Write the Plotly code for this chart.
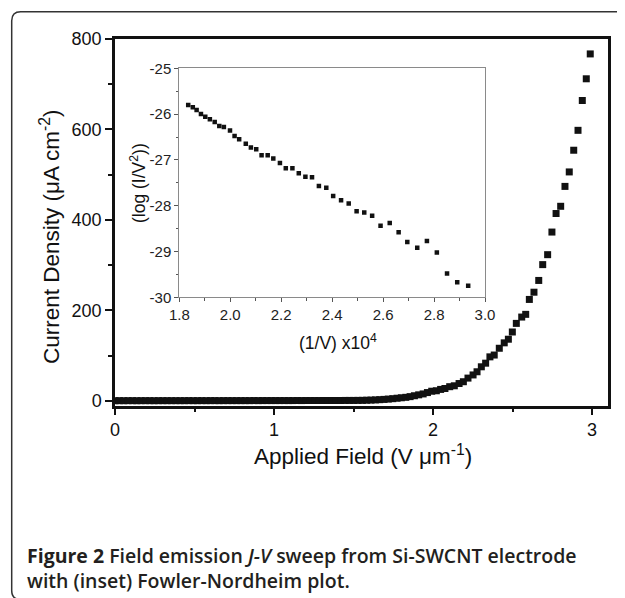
import plotly.graph_objects as go

# ---- main J-V sweep data (Applied field V/um, current density uA/cm2) ----
field = [0.000, 0.028, 0.055, 0.082, 0.110, 0.137, 0.164, 0.192, 0.219, 0.246,
         0.273, 0.301, 0.328, 0.355, 0.383, 0.410, 0.437, 0.464, 0.492, 0.519,
         0.546, 0.574, 0.601, 0.628, 0.655, 0.683, 0.710, 0.737, 0.765, 0.792,
         0.819, 0.846, 0.874, 0.901, 0.928, 0.956, 0.983, 1.010, 1.037, 1.065,
         1.092, 1.119, 1.147, 1.174, 1.201, 1.228, 1.256, 1.283, 1.310, 1.338,
         1.365, 1.392, 1.419, 1.447, 1.474, 1.501, 1.528,
         1.556, 1.583, 1.610, 1.638, 1.665, 1.692, 1.719, 1.747, 1.774, 1.801,
         1.829, 1.856, 1.883, 1.910, 1.938, 1.965, 1.992,
         2.021, 2.048, 2.075, 2.105, 2.134, 2.164, 2.191, 2.220, 2.252, 2.277,
         2.304, 2.331, 2.358, 2.385, 2.417, 2.448, 2.474, 2.499, 2.524, 2.558,
         2.583, 2.606, 2.635, 2.665, 2.690, 2.721, 2.748, 2.774, 2.803, 2.830,
         2.857, 2.885, 2.912, 2.939, 2.964, 2.989]
current_density = [0.0, 0.1, 0.0, 0.1, 0.1, 0.0, 0.1, 0.1, 0.1, 0.0,
                   0.1, 0.1, 0.1, 0.1, 0.1, 0.1, 0.1, 0.2, 0.1, 0.1,
                   0.2, 0.1, 0.2, 0.2, 0.1, 0.2, 0.2, 0.2, 0.2, 0.2,
                   0.2, 0.2, 0.3, 0.2, 0.3, 0.3, 0.3, 0.3, 0.3, 0.3,
                   0.3, 0.3, 0.4, 0.3, 0.4, 0.4, 0.4, 0.4, 0.5, 0.5,
                   0.5, 0.5, 0.5, 0.6, 0.6, 0.6, 0.7,
                   0.8, 1.1, 1.4, 1.8, 2.3, 2.9, 3.6, 4.5, 5.5, 6.5,
                   7.5, 9, 11, 13, 15, 18, 21,
                   22, 25, 27, 31, 33, 38, 42, 50, 57, 64,
                   75, 83, 97, 101, 116, 128, 136, 152, 171, 185,
                   191, 224, 240, 266, 301, 323, 373, 414, 430, 474,
                   506, 554, 598, 664, 712, 767]

# ---- inset Fowler-Nordheim data ----
inv_v = [1.835, 1.853, 1.868, 1.885, 1.902, 1.920, 1.939, 1.957, 1.975, 1.999,
         2.017, 2.035, 2.061, 2.081, 2.102, 2.123, 2.147, 2.169, 2.195, 2.218,
         2.244, 2.269, 2.295, 2.321, 2.348, 2.377, 2.404, 2.435, 2.465, 2.496,
         2.526, 2.557, 2.590, 2.626, 2.661, 2.695, 2.734, 2.772, 2.811, 2.851,
         2.891, 2.934]
log_iv2 = [-25.80, -25.85, -25.91, -26.00, -26.06, -26.11, -26.17, -26.26, -26.28, -26.36,
           -26.48, -26.55, -26.65, -26.73, -26.77, -26.90, -26.90, -26.97, -27.07, -27.18,
           -27.18, -27.29, -27.37, -27.38, -27.57, -27.61, -27.79, -27.88, -27.95, -28.12,
           -28.15, -28.22, -28.44, -28.38, -28.58, -28.79, -28.92, -28.77, -29.02, -29.48,
           -29.67, -29.75]

main_yticks = [0, 200, 400, 600, 800]
main_xticks = [0, 1, 2, 3]
inset_xticks = [1.8, 2.0, 2.2, 2.4, 2.6, 2.8, 3.0]
inset_yticks = [-30, -29, -28, -27, -26, -25]

PAGE_W, PAGE_H = 625, 598
OFF = 8                      # browser body margin
L, R, T, B = 115, 608, 39, 406  # plot area in page pixels


def px(x):
    return (x - L) / (R - L)


def py(y):
    return (B - y) / (B - T)


fig = go.Figure()
fig.add_trace(go.Scatter(x=field, y=current_density, mode="markers",
                         marker=dict(symbol="square", size=7, color="#111111",
                                     line=dict(width=0)),
                         xaxis="x", yaxis="y", showlegend=False))
fig.add_trace(go.Scatter(x=inv_v, y=log_iv2, mode="markers",
                         marker=dict(symbol="square", size=4.5, color="#111111",
                                     line=dict(width=0)),
                         xaxis="x2", yaxis="y2", showlegend=False))

tickfont_main = dict(family="Liberation Sans, Arial, sans-serif", size=18, color="#111111")
tickfont_inset = dict(family="Liberation Sans, Arial, sans-serif", size=15, color="#222222")

fig.update_layout(
    width=PAGE_W - OFF, height=PAGE_H - OFF,
    margin=dict(l=L - OFF, r=PAGE_W - R, t=T - OFF, b=PAGE_H - B, autoexpand=False),
    paper_bgcolor="white", plot_bgcolor="white",
    xaxis=dict(domain=[0, 1], range=[0, (R - L) / 159.0], tickvals=main_xticks,
               showline=True, linecolor="#111111", linewidth=2.5, mirror=True,
               ticks="outside", ticklen=6, tickwidth=2, tickcolor="#111111",
               minor=dict(dtick=0.5, ticks="outside", ticklen=3.5, tickwidth=2,
                          tickcolor="#111111"),
               showgrid=False, zeroline=False, tickfont=tickfont_main, automargin=False),
    yaxis=dict(domain=[0, 1], range=[-11.7, 800], tickvals=main_yticks,
               showline=True, linecolor="#111111", linewidth=2.5, mirror=True,
               ticks="outside", ticklen=7, tickwidth=2, tickcolor="#111111",
               minor=dict(dtick=100, ticks="outside", ticklen=4, tickwidth=2,
                          tickcolor="#111111"),
               showgrid=False, zeroline=False, tickfont=tickfont_main, automargin=False),
    xaxis2=dict(domain=[px(179.3), px(485)], anchor="y2", range=[1.8, 3.0],
                tickvals=inset_xticks, ticktext=[f"{v:.1f}" for v in inset_xticks],
                showline=True, linecolor="#8a8a8a", linewidth=1, mirror=True,
                ticks="outside", ticklen=4, tickwidth=1, tickcolor="#555555",
                minor=dict(dtick=0.1, ticks="outside", ticklen=2.5, tickwidth=1,
                           tickcolor="#555555"),
                showgrid=False, zeroline=False, tickfont=tickfont_inset, automargin=False),
    yaxis2=dict(domain=[py(297.3), py(68.3)], anchor="x2", range=[-30, -25],
                tickvals=inset_yticks, ticktext=[f"{v:d}" for v in inset_yticks],
                showline=True, linecolor="#8a8a8a", linewidth=1, mirror=True,
                ticks="outside", ticklen=4, tickwidth=1, tickcolor="#555555",
                minor=dict(dtick=0.5, ticks="outside", ticklen=2.5, tickwidth=1,
                           tickcolor="#555555"),
                showgrid=False, zeroline=False, tickfont=tickfont_inset, automargin=False),
)

title_font = dict(family="Liberation Sans, Arial, sans-serif", size=22.5, color="#111111")
inset_title_font = dict(family="Liberation Sans, Arial, sans-serif", size=17.5, color="#111111")
cap_font = dict(family="Open Sans, Noto Sans, sans-serif", size=19.5, color="#231f20")

annotations = [
    dict(text="Applied Field (V \u03bcm<sup>-1</sup>)", x=px(363), y=py(455),
         xref="paper", yref="paper", xanchor="center", yanchor="middle",
         showarrow=False, font=title_font),
    dict(text="Current Density (\u03bcA cm<sup>-2</sup>)", x=px(50), y=py(237),
         xref="paper", yref="paper", xanchor="center", yanchor="middle",
         textangle=-90, showarrow=False, font=title_font),
    dict(text="(1/V) x10<sup>4</sup>", x=px(338), y=py(342),
         xref="paper", yref="paper", xanchor="center", yanchor="middle",
         showarrow=False, font=inset_title_font),
    dict(text="(log (I/V<sup>2</sup>))", x=px(138), y=py(183),
         xref="paper", yref="paper", xanchor="center", yanchor="middle",
         textangle=-90, showarrow=False, font=inset_title_font),
    dict(text="<b>Figure 2</b> Field emission <i>J-V</i> sweep from Si-SWCNT electrode",
         x=px(25), y=py(555), xref="paper", yref="paper",
         xanchor="left", yanchor="middle", showarrow=False,
         font=dict(cap_font, weight=600)),
    dict(text="with (inset) Fowler-Nordheim plot.",
         x=px(25), y=py(580), xref="paper", yref="paper",
         xanchor="left", yanchor="middle", showarrow=False,
         font=dict(cap_font, weight=600)),
]
fig.update_layout(annotations=annotations)

# rounded figure frame (top-left and bottom-left corners visible)
fl, ft, fb, fr = 11.7, 11.7, 599.5, 640
r = 9
path = (f"M {px(fr)},{py(ft)} L {px(fl + r)},{py(ft)} "
        f"Q {px(fl)},{py(ft)} {px(fl)},{py(ft + r)} "
        f"L {px(fl)},{py(fb - r)} "
        f"Q {px(fl)},{py(fb)} {px(fl + r)},{py(fb)} "
        f"L {px(fr)},{py(fb)}")
fig.add_shape(type="path", path=path, xref="paper", yref="paper",
              line=dict(color="#333333", width=1.5), layer="below")

fig.write_html("out.html")
